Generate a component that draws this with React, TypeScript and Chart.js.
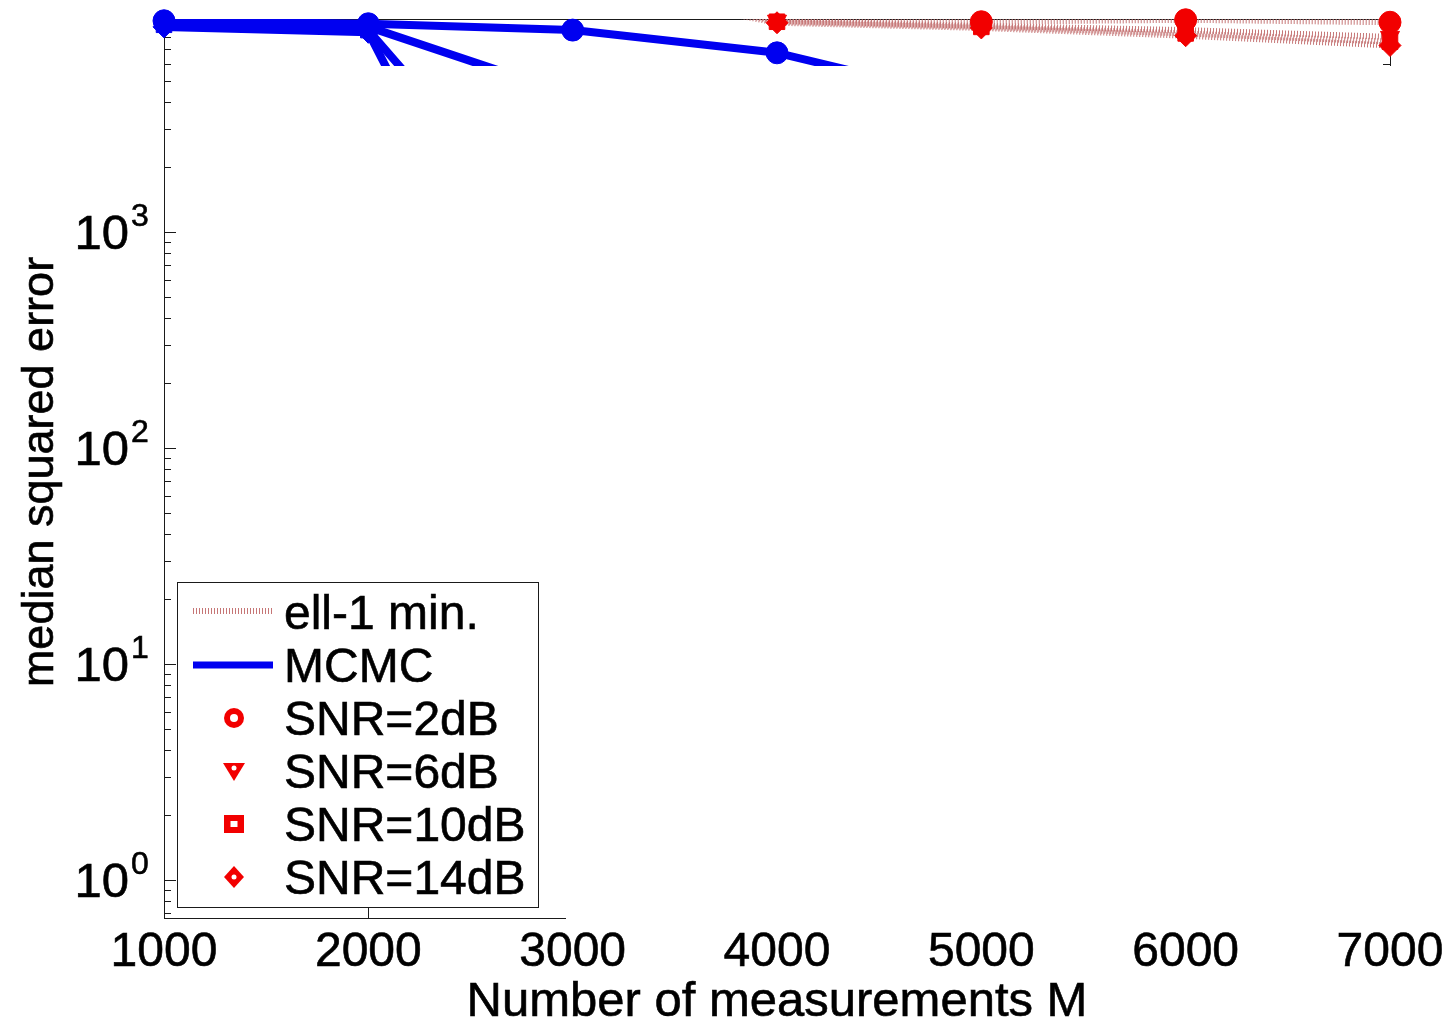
import React, { useEffect, useRef } from 'react';
import { Chart, registerables } from 'chart.js';

Chart.register(...registerables);

// ---------------- data ----------------
const M_VALUES = [1000, 2000, 3000, 4000, 5000, 6000, 7000];
const X_TICKS = [1000, 2000, 3000, 4000, 5000, 6000, 7000];
const Y_TICK_EXPONENTS = [0, 1, 2, 3];
const Y_MIN = 0.667;
const Y_MAX = 9680;

const SNR_LABELS = ['SNR=2dB', 'SNR=6dB', 'SNR=10dB', 'SNR=14dB'];
const METHOD_LABELS = ['ell-1 min.', 'MCMC'];

const MCMC_2DB = [9500, 9200, 8600, 6750, 4000, 1800, 700];
const MCMC_6DB = [9300, 8900, 4300, 1000, 250, 60, 15];
const MCMC_10DB = [9100, 8600, 700, 40, 8, 3, 1.5];
const MCMC_14DB = [8900, 8400, 120, 20, 4, 1.5, 0.8];

const ELL1_2DB = [40000, 30000, 20000, 9700, 9400, 9600, 9350];
const ELL1_6DB = [40000, 30000, 16000, 9500, 9000, 8600, 8000];
const ELL1_10DB = [40000, 30000, 15000, 9400, 8900, 8300, 7600];
const ELL1_14DB = [40000, 30000, 14000, 9300, 8800, 8100, 7300];

const X_TITLE = 'Number of measurements M';
const Y_TITLE = 'median squared error';

// ---------------- styles ----------------
const FONT = '"Liberation Sans", Arial, Helvetica, sans-serif';
const BLUE = '#0000f0';
const RED = '#f20000';
const HATCH = 'rgb(198,118,118)';
const TEXT_STROKE = 0.6;
const POINT_STYLES = ['circle', 'triangle', 'rect', 'rectRot'];
const POINT_ROTATIONS = [0, 180, 0, 0];

const MCMC_SERIES = [MCMC_2DB, MCMC_6DB, MCMC_10DB, MCMC_14DB];
const ELL1_SERIES = [ELL1_2DB, ELL1_6DB, ELL1_10DB, ELL1_14DB];

const toPoints = (vals: number[]) => M_VALUES.map((m, i) => ({ x: m, y: vals[i] }));
const inRange = (vals: number[]) => toPoints(vals).filter((p) => p.y >= Y_MIN && p.y <= Y_MAX);

function buildDatasets() {
  const ds: any[] = [];
  ELL1_SERIES.forEach((s, i) => {
    ds.push({
      label: `${METHOD_LABELS[0]} ${SNR_LABELS[i]}`,
      data: toPoints(s),
      borderColor: HATCH,
      borderWidth: 6,
      borderDash: [1, 2],
      borderCapStyle: 'butt',
      pointRadius: 0,
      fill: false,
      tension: 0,
      clip: 0,
      order: 3,
    });
  });
  MCMC_SERIES.forEach((s, i) => {
    ds.push({
      label: `${METHOD_LABELS[1]} ${SNR_LABELS[i]}`,
      data: toPoints(s),
      borderColor: BLUE,
      borderWidth: 8,
      borderJoinStyle: 'round',
      pointRadius: 0,
      fill: false,
      tension: 0,
      clip: 0,
      order: 2,
    });
  });
  ELL1_SERIES.forEach((s, i) => {
    ds.push({
      label: `${METHOD_LABELS[0]} ${SNR_LABELS[i]} markers`,
      data: inRange(s),
      showLine: false,
      pointStyle: POINT_STYLES[i],
      rotation: POINT_ROTATIONS[i],
      pointRadius: 11,
      pointBackgroundColor: RED,
      pointBorderColor: RED,
      pointBorderWidth: 1,
      clip: false,
      order: 1,
    });
  });
  MCMC_SERIES.forEach((s, i) => {
    ds.push({
      label: `${METHOD_LABELS[1]} ${SNR_LABELS[i]} markers`,
      data: inRange(s),
      showLine: false,
      pointStyle: POINT_STYLES[i],
      rotation: POINT_ROTATIONS[i],
      pointRadius: 11,
      pointBackgroundColor: BLUE,
      pointBorderColor: BLUE,
      pointBorderWidth: 1,
      clip: false,
      order: 1,
    });
  });
  return ds;
}

function drawLegendMarker(ctx: CanvasRenderingContext2D, style: string, x: number, y: number) {
  ctx.fillStyle = RED;
  ctx.beginPath();
  if (style === 'circle') {
    ctx.arc(x, y, 10, 0, Math.PI * 2);
  } else if (style === 'triangle') {
    ctx.moveTo(x - 11, y - 8);
    ctx.lineTo(x + 11, y - 8);
    ctx.lineTo(x, y + 10);
    ctx.closePath();
  } else if (style === 'rect') {
    ctx.rect(x - 10, y - 9, 20, 18);
  } else {
    ctx.moveTo(x, y - 11);
    ctx.lineTo(x + 10, y);
    ctx.lineTo(x, y + 11);
    ctx.lineTo(x - 10, y);
    ctx.closePath();
  }
  ctx.fill();
  ctx.fillStyle = '#fff';
  ctx.beginPath();
  if (style === 'rect') ctx.rect(x - 3.5, y - 3, 7, 6);
  else ctx.arc(x, style === 'triangle' ? y - 3 : y, style === 'circle' ? 4 : 2.5, 0, Math.PI * 2);
  ctx.fill();
}

function fillStrokeText(ctx: CanvasRenderingContext2D, text: string, x: number, y: number) {
  ctx.fillText(text, x, y);
  ctx.lineWidth = TEXT_STROKE;
  ctx.strokeStyle = '#000';
  ctx.strokeText(text, x, y);
}

const matlabPlugin = {
  id: 'matlabLook',
  beforeDatasetsDraw(chart: any) {
    const { ctx, chartArea: a, scales } = chart;
    const x = scales.x;
    const y = scales.y;
    ctx.save();
    ctx.strokeStyle = '#1a1a1a';
    ctx.lineWidth = 1;
    ctx.strokeRect(a.left + 0.5, a.top + 0.5, a.right - a.left, a.bottom - a.top);
    ctx.beginPath();
    for (const v of X_TICKS) {
      const px = Math.round(x.getPixelForValue(v)) + 0.5;
      ctx.moveTo(px, a.bottom);
      ctx.lineTo(px, a.bottom - 12);
      ctx.moveTo(px, a.top);
      ctx.lineTo(px, a.top + 12);
    }
    for (let e = -1; e <= 4; e++) {
      for (let m = 1; m <= 9; m++) {
        const v = m * Math.pow(10, e);
        if (v < Y_MIN || v > Y_MAX) continue;
        const py = Math.round(y.getPixelForValue(v)) + 0.5;
        const len = m === 1 ? 12 : 7;
        ctx.moveTo(a.left, py);
        ctx.lineTo(a.left + len, py);
        ctx.moveTo(a.right, py);
        ctx.lineTo(a.right - len, py);
      }
    }
    ctx.stroke();
    ctx.restore();
  },
  afterDatasetsDraw(chart: any) {
    const { ctx, chartArea: a, scales } = chart;
    const y = scales.y;
    ctx.save();
    // white occlusion over most of the plot area (as in the source figure)
    ctx.fillStyle = '#fff';
    ctx.fillRect(a.left + 14, a.top + 47, chart.width - a.left - 14, a.bottom - 13 - (a.top + 47));
    ctx.fillRect(566, a.top + 47, chart.width - 566, a.bottom + 10 - (a.top + 47));

    // y tick labels 10^k
    ctx.fillStyle = '#000';
    for (const k of Y_TICK_EXPONENTS) {
      const py = y.getPixelForValue(Math.pow(10, k));
      ctx.font = `49px ${FONT}`;
      ctx.textAlign = 'right';
      ctx.textBaseline = 'alphabetic';
      fillStrokeText(ctx, '10', 129, py + 17);
      ctx.font = `32px ${FONT}`;
      ctx.textAlign = 'left';
      fillStrokeText(ctx, String(k), 131, py - 6);
    }
    // axis titles
    ctx.font = `49px ${FONT}`;
    ctx.textAlign = 'center';
    ctx.textBaseline = 'alphabetic';
    fillStrokeText(ctx, X_TITLE, (a.left + a.right) / 2, 1016);
    ctx.save();
    ctx.translate(53, 472);
    ctx.rotate(-Math.PI / 2);
    ctx.font = `45px ${FONT}`;
    fillStrokeText(ctx, Y_TITLE, 0, 0);
    ctx.restore();

    // legend
    const L = { left: 177, top: 582, right: 538, bottom: 907 };
    ctx.fillStyle = '#fff';
    ctx.fillRect(L.left, L.top, L.right - L.left, L.bottom - L.top);
    ctx.strokeStyle = '#1a1a1a';
    ctx.lineWidth = 1;
    ctx.strokeRect(L.left + 0.5, L.top + 0.5, L.right - L.left, L.bottom - L.top);
    const labels = [...METHOD_LABELS, ...SNR_LABELS];
    labels.forEach((lab, i) => {
      const cy = 612 + i * 53;
      if (i === 0) {
        ctx.strokeStyle = HATCH;
        ctx.lineWidth = 6;
        ctx.setLineDash([1, 2]);
        ctx.beginPath();
        ctx.moveTo(193, cy - 1);
        ctx.lineTo(273, cy - 1);
        ctx.stroke();
        ctx.setLineDash([]);
      } else if (i === 1) {
        ctx.strokeStyle = BLUE;
        ctx.lineWidth = 7;
        ctx.beginPath();
        ctx.moveTo(193, cy);
        ctx.lineTo(273, cy);
        ctx.stroke();
      } else {
        drawLegendMarker(ctx, POINT_STYLES[i - 2], 234, cy);
      }
      ctx.fillStyle = '#000';
      ctx.font = `48px ${FONT}`;
      ctx.textAlign = 'left';
      ctx.textBaseline = 'alphabetic';
      fillStrokeText(ctx, lab, 284, cy + 17);
    });
    ctx.restore();
  },
};

export default function App() {
  const canvasRef = useRef<HTMLCanvasElement | null>(null);
  useEffect(() => {
    if (!canvasRef.current) return;
    const chart = new Chart(canvasRef.current, {
      type: 'line',
      data: { datasets: buildDatasets() },
      options: {
        responsive: false,
        animation: false,
        events: [],
        layout: { padding: { top: 19, right: 61, left: 0, bottom: 0 } },
        plugins: { legend: { display: false }, tooltip: { enabled: false } },
        scales: {
          x: {
            type: 'linear',
            min: 1000,
            max: 7000,
            grid: { display: false, drawTicks: false },
            border: { display: false },
            afterFit: (s: any) => { s.height = 100; },
            ticks: {
              stepSize: 1000,
              maxRotation: 0,
              autoSkip: false,
              padding: 6,
              color: '#000',
              textStrokeColor: '#000',
              textStrokeWidth: TEXT_STROKE,
              font: { size: 48, family: FONT },
              callback: (v: any) => String(v),
            },
          },
          y: {
            type: 'logarithmic',
            min: Y_MIN,
            max: Y_MAX,
            grid: { display: false, drawTicks: false },
            border: { display: false },
            ticks: { display: false },
            afterFit: (s: any) => { s.width = 164; },
          },
        },
      } as any,
      plugins: [matlabPlugin],
    });
    return () => chart.destroy();
  }, []);
  return (
    <div style={{ position: 'absolute', left: 0, top: 0, width: 1451, height: 1018, background: '#fff' }}>
      <canvas ref={canvasRef} width={1451} height={1018} style={{ display: 'block' }} />
    </div>
  );
}
